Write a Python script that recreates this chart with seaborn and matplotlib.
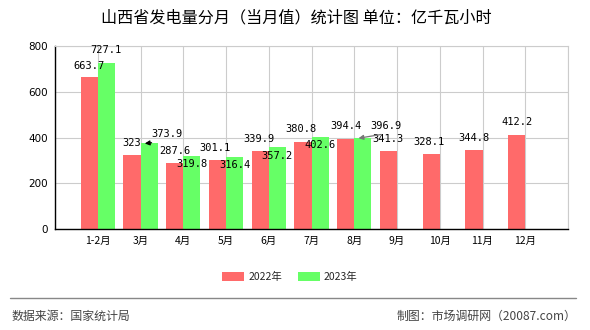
import matplotlib
matplotlib.use("Agg")
import matplotlib.pyplot as plt
import seaborn as sns
import pandas as pd
import numpy as np
from matplotlib.patches import Patch
from matplotlib.lines import Line2D

categories = ["1-2月", "3月", "4月", "5月", "6月", "7月", "8月", "9月", "10月", "11月", "12月"]
series_names = ["2022年", "2023年"]
values_2022 = [663.7, 323, 287.6, 301.1, 339.9, 380.8, 394.4, 341.3, 328.1, 344.8, 412.2]
values_2023 = [727.1, 373.9, 319.8, 316.4, 357.2, 402.6, 396.9, None, None, None, None]
yticks = [0, 200, 400, 600, 800]
title = "山西省发电量分月（当月值）统计图 单位：亿千瓦小时"
source_text = "数据来源：国家统计局"
credit_text = "制图：市场调研网（20087.com）"

colors = ["#FF6A6A", "#66FF66"]

# label offsets in pixels (style only)
red_off = [(0, 11), (0, 12), (0, 12), (-2, 12), (-1, 12), (-2, 13), (0, 13), (0, 12), (-2, 12), (0, 12), (0, 13)]
green_off = [(0, 13), (22, 9), (0, -8), (0, -8), (0, -9), (0, -8), (27, 12)]
green_arrow = [False, True, False, False, False, False, True]
arrow_col = ["black", "black", "black", "black", "black", "black", "#777777"]

rows = []
for c, a, b in zip(categories, values_2022, values_2023):
    rows.append({"月份": c, "年份": series_names[0], "值": a})
    rows.append({"月份": c, "年份": series_names[1], "值": np.nan if b is None else b})
df = pd.DataFrame(rows)

sns.set_theme(style="white")
plt.rcParams["font.family"] = ["Noto Sans CJK SC", "DejaVu Sans"]

W, H = 590, 330
fig = plt.figure(figsize=(W / 100, H / 100), dpi=100)
ax = fig.add_axes([55 / W, 1 - 229 / H, (568 - 55) / W, (229 - 46) / H])

sns.barplot(data=df, x="月份", y="值", hue="年份", order=categories, hue_order=series_names,
            palette=colors, width=0.8, ax=ax, legend=False, saturation=1, linewidth=0)

ax.set_xlim(-1, len(categories))
ax.set_ylim(0, 800)
ax.set_yticks(yticks)
ax.set_yticklabels([str(v) for v in yticks], fontsize=7.5, family=["DejaVu Sans"])
ax.set_xticks(range(-1, len(categories) + 1))
ax.set_xticklabels([""] + categories + [""], fontsize=7.5)
ax.set_xlabel("")
ax.set_ylabel("")
ax.grid(True, color="#cccccc", linewidth=0.8)
ax.set_axisbelow(True)
for s in ["left", "bottom"]:
    ax.spines[s].set_color("black")
    ax.spines[s].set_linewidth(1.0)
for s in ["top", "right"]:
    ax.spines[s].set_color("#cccccc")
    ax.spines[s].set_linewidth(0.8)
ax.tick_params(axis="both", which="both", length=3, width=0.8, color="black", pad=2, colors="black")

k = 0.72  # px -> pt
for i, v in enumerate(values_2022):
    dx, dy = red_off[i]
    ax.annotate(f"{v:g}", xy=(i - 0.2, v), xytext=(dx * k, dy * k), textcoords="offset points",
                ha="center", va="center", fontsize=7.5, family="DejaVu Sans Mono", color="black")
for i, v in enumerate(values_2023):
    if v is None:
        continue
    dx, dy = green_off[i]
    if green_arrow[i]:
        ax.annotate(f"{v:g}", xy=(i + 0.1, v), xytext=(dx * k, dy * k), textcoords="offset points",
                    ha="center", va="center", fontsize=7.5, family="DejaVu Sans Mono", color="black",
                    arrowprops=dict(arrowstyle="-|>", color=arrow_col[i], lw=0.9, relpos=(1, 0),
                                    shrinkA=0, shrinkB=0, mutation_scale=7))
    else:
        ax.annotate(f"{v:g}", xy=(i + 0.2, v), xytext=(dx * k, dy * k), textcoords="offset points",
                    ha="center", va="center", fontsize=7.5, family="DejaVu Sans Mono", color="black")

fig.text(296 / W, 1 - 18 / H, title, ha="center", va="center", fontsize=11.6, color="black")

handles = [Patch(facecolor=colors[0], edgecolor="none"), Patch(facecolor=colors[1], edgecolor="none")]
fig.legend(handles, series_names, loc="center", bbox_to_anchor=(290 / W, 1 - 277 / H), ncol=2,
           frameon=False, fontsize=7.5, handlelength=2.1, handleheight=0.9, handletextpad=0.4,
           columnspacing=1.5)

fig.add_artist(Line2D([10 / W, 576 / W], [1 - 298 / H, 1 - 298 / H], color="#888888", lw=1.0,
                      transform=fig.transFigure))
fig.text(11 / W, 1 - 316 / H, source_text, ha="left", va="center", fontsize=8.6, color="#444444")
fig.text(576 / W, 1 - 316 / H, credit_text, ha="right", va="center", fontsize=8.6, color="#444444")

fig.savefig("out.png", dpi=100)
